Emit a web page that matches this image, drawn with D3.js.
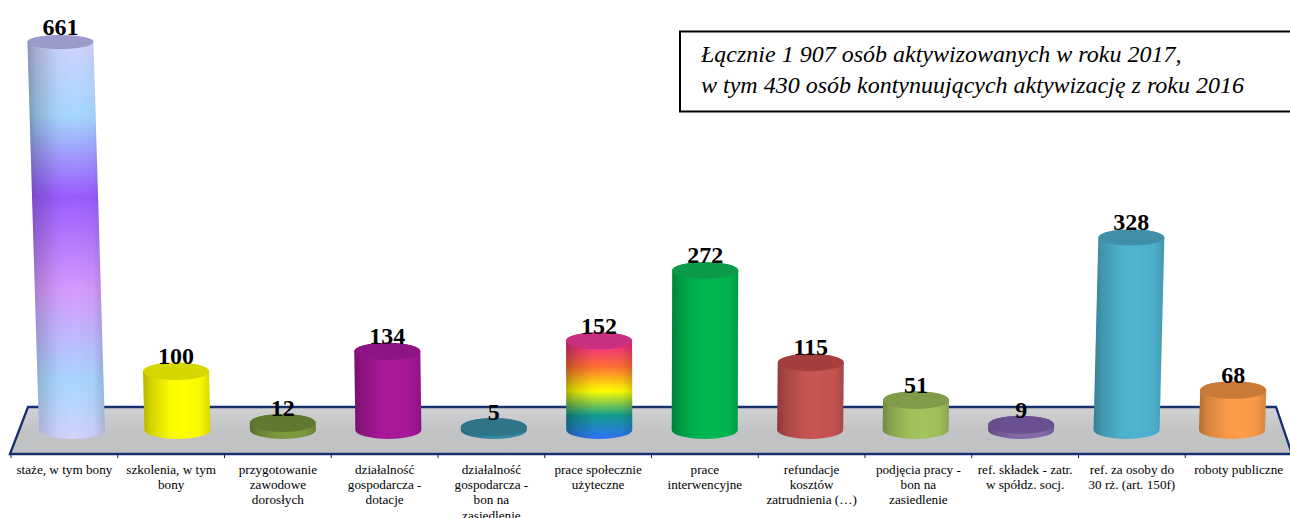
<!DOCTYPE html>
<html>
<head>
<meta charset="utf-8">
<script src="https://cdn.jsdelivr.net/npm/d3@7"></script>
<style>
html, body { margin: 0; padding: 0; background: #fff; overflow: hidden; }
text { font-family: "Liberation Serif", serif; fill: #000; }
</style>
</head>
<body>
<script>
// labels of the categories, one array per wrapped line group
var categories = [
  ["staże, w tym bony"],
  ["szkolenia, w tym", "bony"],
  ["przygotowanie", "zawodowe", "dorosłych"],
  ["działalność", "gospodarcza -", "dotacje"],
  ["działalność", "gospodarcza -", "bon na", "zasiedlenie"],
  ["prace społecznie", "użyteczne"],
  ["prace", "interwencyjne"],
  ["refundacje", "kosztów", "zatrudnienia (…)"],
  ["podjęcia pracy -", "bon na", "zasiedlenie"],
  ["ref. składek - zatr.", "w spółdz. socj."],
  ["ref. za osoby do", "30 rż. (art. 150f)"],
  ["roboty publiczne"]
];
var values = [661, 100, 12, 134, 5, 152, 272, 115, 51, 9, 328, 68];

// body colour stops, top to bottom: [offset, colour]
var barStops = [
  [[0, "#d2d2ff"], [0.2, "#a6d8ff"], [0.4, "#9a5cff"], [0.63, "#d69aff"], [0.86, "#a8d8ff"], [1, "#d2d2ff"]],
  [[0, "#ffff00"]],
  [[0, "#7c9a3e"]],
  [[0, "#a8189a"]],
  [[0, "#338ba3"]],
  [[0.08, "#ee2490"], [0.32, "#ff6e34"], [0.55, "#ffff00"], [0.78, "#129c90"], [1, "#2f72f8"]],
  [[0, "#00b850"]],
  [[0, "#c95452"]],
  [[0, "#a2c45d"]],
  [[0, "#8669aa"]],
  [[0, "#4fb4d0"]],
  [[0, "#ff9c48"]]
];
var lidColors = ["#9a9acb", "#d6d600", "#5f7a30", "#8c1484", "#2f7489", "#c9307f", "#0b9a48", "#a43f3d", "#7f9c48", "#6a4f90", "#3f8fa8", "#c97a38"];

var boxLines = ["Łącznie 1 907 osób aktywizowanych w roku 2017,", "w tym 430 osób kontynuujących aktywizację z roku 2016"];

var w = 1290, h = 518;
var svg = d3.select("body").append("svg").attr("width", w).attr("height", h).style("display", "block");
var defs = svg.append("defs");

// the axis runs on a slightly wider step than the cylinders standing on the floor
var axisX = d3.scaleBand().domain(d3.range(values.length)).range([11, 1292]).padding(0);
var x = d3.scalePoint().domain(d3.range(values.length)).range([72, 1232]);
var y = d3.scaleLinear().domain([0, 661]).range([430, 42]);

var centerX = 645, spread = 0.000052;
var barW = 66;
// cylinders lean outward a little because of the perspective of the picture
function lean(cx, top) {
  return cx + (cx - centerX) * spread * (y(0) - top);
}
// lids get flatter the higher they are
function lidRy(top) {
  return 9 - 2 * (y(0) - top) / (y(0) - y(661));
}

// floor
var floorG = defs.append("linearGradient").attr("id", "floor").attr("x1", 0).attr("x2", 0).attr("y1", 0).attr("y2", 1);
floorG.append("stop").attr("offset", 0).attr("stop-color", "#d2d2d3");
floorG.append("stop").attr("offset", 0.5).attr("stop-color", "#c2c3c5");
floorG.append("stop").attr("offset", 1).attr("stop-color", "#bfc1c3");

svg.append("path")
  .attr("d", "M10,454L28,407L1276,407L1292,454Z")
  .attr("fill", "url(#floor)")
  .attr("stroke", "#17306e")
  .attr("stroke-width", 2.3);

svg.selectAll("line.tick")
  .data(d3.range(values.length + 1))
  .enter()
  .append("line")
  .attr("class", "tick")
  .attr("x1", function(d) { return 11 + d * axisX.step(); })
  .attr("x2", function(d) { return 11 + d * axisX.step(); })
  .attr("y1", 454)
  .attr("y2", 458)
  .attr("stroke", "#10224f")
  .attr("stroke-width", 1);

// side shading laid over the body colour
var shade = defs.append("linearGradient").attr("id", "shade");
[[0, 0.3], [0.12, 0.17], [0.4, 0.02], [0.6, 0], [0.85, 0.03], [1, 0.16]].forEach(function(s) {
  shade.append("stop").attr("offset", s[0]).attr("stop-color", "#000").attr("stop-opacity", s[1]);
});

barStops.forEach(function(stops, i) {
  var g = defs.append("linearGradient").attr("id", "body" + i).attr("x1", 0).attr("x2", 0).attr("y1", 0).attr("y2", 1);
  stops.forEach(function(s) {
    g.append("stop").attr("offset", s[0]).attr("stop-color", s[1]);
  });
});

function bodyPath(d, i) {
  var cx = x(i);
  var top = y(d), tx = lean(cx, top);
  var r = barW / 2;
  return "M" + (tx - r) + "," + top +
    "L" + (cx - r) + "," + y(0) +
    "A" + r + ",9 0 0 0 " + (cx + r) + "," + y(0) +
    "L" + (tx + r) + "," + top +
    "A" + r + "," + lidRy(top) + " 0 0 0 " + (tx - r) + "," + top + "Z";
}
function topX(d, i) {
  return lean(x(i), y(d));
}

var bars = svg.selectAll("g.bar").data(values).enter().append("g").attr("class", "bar");
bars.append("path").attr("d", bodyPath).attr("fill", function(d, i) { return "url(#body" + i + ")"; });
bars.append("path").attr("d", bodyPath).attr("fill", "url(#shade)");
bars.append("ellipse")
  .attr("cx", topX)
  .attr("cy", function(d) { return y(d); })
  .attr("rx", barW / 2)
  .attr("ry", function(d) { return lidRy(y(d)); })
  .attr("fill", function(d, i) { return lidColors[i]; });

// values
svg.selectAll("text.val")
  .data(values)
  .enter()
  .append("text")
  .attr("class", "val")
  .attr("x", topX)
  .attr("y", function(d) { return y(d) - 7; })
  .attr("text-anchor", "middle")
  .attr("font-size", "24px")
  .attr("font-weight", "bold")
  .text(function(d) { return d; });

// category labels
var labels = svg.selectAll("text.cat")
  .data(categories)
  .enter()
  .append("text")
  .attr("class", "cat")
  .attr("text-anchor", "middle")
  .attr("font-size", "13.2px");
labels.selectAll("tspan")
  .data(function(d, i) { return d.map(function(t) { return { t: t, i: i }; }); })
  .enter()
  .append("tspan")
  .attr("x", function(d) { return axisX(d.i) + axisX.bandwidth() / 2; })
  .attr("y", function(d, j) { return 473.5 + j * 15.4; })
  .text(function(d) { return d.t; });

// note box, runs off the right side of the picture
svg.append("rect")
  .attr("x", 680).attr("y", 31.5).attr("width", 640).attr("height", 80)
  .attr("fill", "#fff").attr("stroke", "#000").attr("stroke-width", 2);
svg.selectAll("text.note")
  .data(boxLines)
  .enter()
  .append("text")
  .attr("class", "note")
  .attr("x", 701)
  .attr("y", function(d, i) { return 62 + i * 30.5; })
  .attr("font-size", "24px")
  .attr("font-style", "italic")
  .text(function(d) { return d; });
</script>
</body>
</html>
